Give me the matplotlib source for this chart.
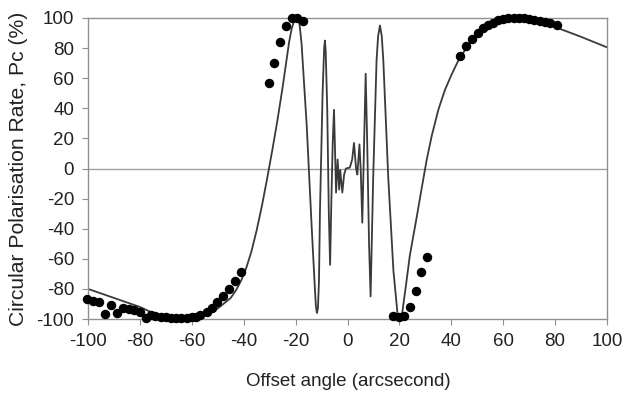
import matplotlib
matplotlib.use("Agg")
import matplotlib.pyplot as plt

plt.rcParams['font.family'] = ['Liberation Sans', 'DejaVu Sans']
plt.rcParams['axes.unicode_minus'] = False

# Model curve (offset angle, Pc)
curve_x = [-100, -90, -80, -75, -70, -65, -60, -55, -50, -45, -43, -41, -39, -37, -35, -33,
           -31, -29, -27, -25, -23.5, -22.5, -21.5, -20.5, -19.5, -19.0, -18.5, -17.7, -15.7, -13.8,
           -12.5, -12.2, -11.8, -11.4, -11.0, -10.6, -9.6, -9.0, -8.7, -8.4, -7.8, -7.2, -6.7,
           -6.2, -5.7, -5.2, -4.4, -3.8, -3.2, -2.8, -2.0, -1.3, -0.6,
           0.9, 1.8, 2.5, 3.3, 3.8, 4.6, 5.1, 5.7, 6.4, 7.0, 7.6, 8.3, 8.9, 9.9, 11.2, 11.8,
           12.5, 13.2, 13.8, 15.7, 17.7, 19.3, 20.2, 21.0, 22.5, 24, 26.7, 28.5, 30.5, 32.5, 35,
           37.5, 40, 42.5, 45, 47.5, 50, 52.5, 55, 57.5, 60, 62.5, 65, 67.5, 70, 72.5, 75, 80,
           90, 100]
curve_y = [-80, -86, -92, -96, -99, -100, -99, -97, -93, -86, -81, -74.5, -66, -55, -41, -25,
           -7, 12, 32, 54, 72, 84, 93, 98.5, 100, 99.5, 96, 83, 28, -39,
           -82, -91, -96, -93, -75, -27.6, 50, 80, 85, 78, 39, -30, -64,
           -20, 16.7, 39, -16, 6, -14, -1, -16, -4, 0,
           0.6, 6, 17, 0, -4, 16, -1, -36, 17, 63, 17, -50, -85, -6, 72, 88,
           95, 88, 72, -6, -68, -97, -100, -97, -78, -58, -32, -14, 5.6, 22, 39,
           52, 62, 71, 78, 84, 88, 91.5, 94, 96.5, 98, 99.5, 100, 100, 99, 98.5, 97, 94,
           87.5, 80.5]

# Measured points
meas_x = [-100.5, -97.9, -95.6, -93.3, -91.1, -88.8, -86.5, -84.3, -82.1, -79.8, -77.8, -75.9,
          -74, -72, -70, -68, -66, -64, -62, -60, -58.5, -56.8, -54.3, -52.3, -50.2, -47.9,
          -45.5, -43.4, -41,
          -30.1, -28.2, -26, -23.7, -21.5, -19.3, -17,
          17.4, 19.8, 21.9, 24.1, 26.4, 28.4, 30.5,
          43.4, 45.7, 47.9, 50.4, 52.3, 54.3, 56.2, 58.1, 60, 62, 64, 66, 68, 70, 72, 74,
          76, 78, 80.6]
meas_y = [-86.9, -87.8, -88.5, -96.9, -90.7, -96.2, -92.9, -93.6, -94, -95.1, -99.5, -97.3,
          -98, -98.5, -99, -99.5, -99.5, -99.5, -99.5, -99, -98.5, -97.3, -95.1, -92.9, -88.5,
          -84.7, -80.3, -74.5, -69,
          57, 69.9, 83.9, 94.7, 100.2, 100, 98.2,
          -98, -99, -98, -92.2, -81.4, -68.6, -59,
          74.8, 81.4, 85.8, 90.2, 93.1, 95.3, 96.9, 98.5, 99.6, 100, 100, 100, 99.8, 99.5, 99,
          98.2, 97.5, 96.5, 95.3]

x_ticks = list(range(-100, 101, 20))
y_ticks = list(range(-100, 101, 20))

fig = plt.figure(figsize=(6.28, 3.93), dpi=100)
ax = fig.add_axes([88/628, 1 - 319/393, (607 - 88)/628, (319 - 18)/393])

ax.axhline(0, color='#a0a0a0', lw=1.0, zorder=1)
ax.plot(curve_x, curve_y, color='#3a3a3a', lw=1.3, zorder=2)
ax.plot(meas_x, meas_y, 'o', color='black', ms=5.8, mec='black', zorder=3, clip_on=False)

ax.set_xlim(-100, 100)
ax.set_ylim(-100, 100)
ax.set_xticks(x_ticks)
ax.set_yticks(y_ticks)
for s in ax.spines.values():
    s.set_color('#909090')
    s.set_linewidth(1.0)
ax.tick_params(direction='out', length=4, color='#909090', labelsize=13.5, labelcolor='#222222', pad=6)
ax.set_xlabel('Offset angle (arcsecond)', fontsize=13.5, color='#222222')
ax.set_ylabel('Circular Polarisation Rate, Pc (%)', fontsize=15.2, color='#222222')
ax.xaxis.set_label_coords((348 - 88) / (607 - 88), -(381 - 319) / (319 - 18))
ax.yaxis.set_label_coords(-(88 - 19) / (607 - 88), 0.5)
ax.xaxis.label.set_va('center')
ax.yaxis.label.set_va('center')

fig.savefig('out.png', dpi=100)
